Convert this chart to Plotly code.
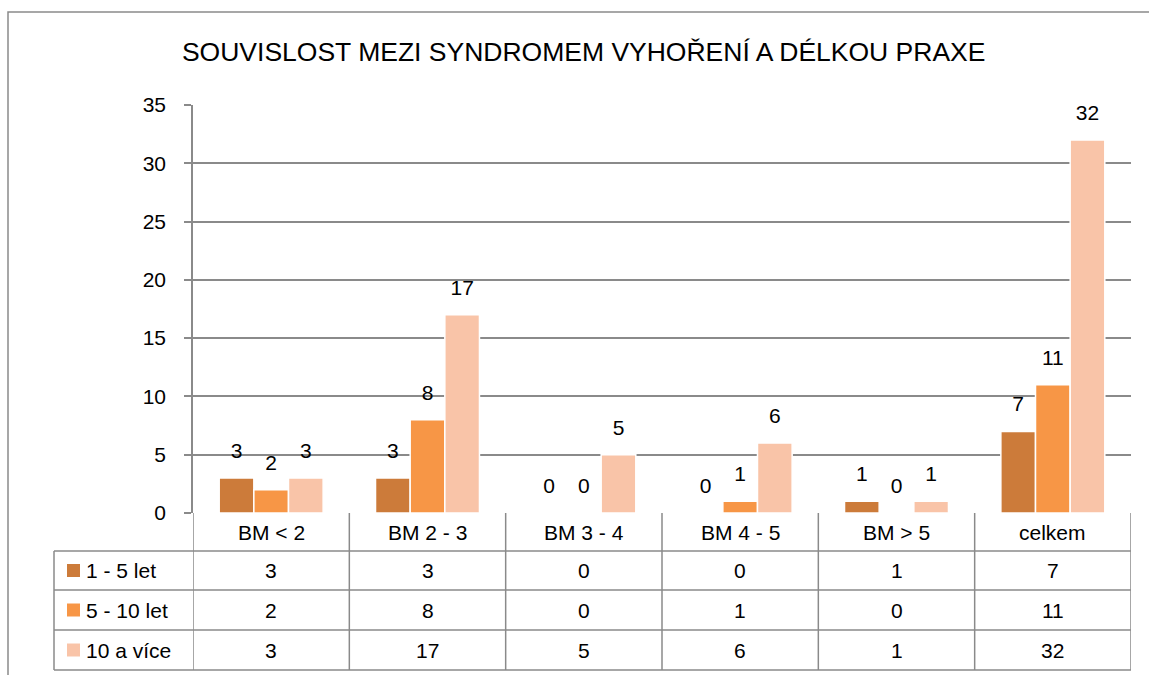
import plotly.graph_objects as go

# ---------------- data ----------------
categories = ["BM < 2", "BM 2 - 3", "BM 3 - 4", "BM 4 - 5", "BM > 5", "celkem"]
series_names = ["1 - 5 let", "5 - 10 let", "10 a více"]
values_1_5 = [3, 3, 0, 0, 1, 7]
values_5_10 = [2, 8, 0, 1, 0, 11]
values_10_plus = [3, 17, 5, 6, 1, 32]
y_tick_values = [0, 5, 10, 15, 20, 25, 30, 35]
title_text = "SOUVISLOST MEZI SYNDROMEM VYHOŘENÍ A DÉLKOU PRAXE"

series_values = [values_1_5, values_5_10, values_10_plus]
colors = ["#CC7B3A", "#F79646", "#F9C4A8"]

# ---------------- geometry helpers (pixel -> paper) ----------------
W, H = 1149, 675
PL, PR, PT, PB = 193, 1131, 105, 513
FONT = "Liberation Sans, Arial, sans-serif"
GRID = "#8a8a8a"


def px(x):
    return (x - PL) / (PR - PL)


def py(y):
    return (PB - y) / (PB - PT)


fig = go.Figure()

for name, vals, col in zip(series_names, series_values, colors):
    fig.add_trace(go.Bar(
        x=categories, y=vals, name=name,
        marker=dict(color=col, line=dict(color="white", width=1.5)),
        showlegend=False, hoverinfo="x+y+name",
    ))

for name, vals in zip(series_names, series_values):
    fig.add_trace(go.Scatter(
        x=categories, y=vals, name=name, mode="markers+text",
        text=[str(v) for v in vals], textposition="top center",
        textfont=dict(family=FONT, size=21, color="black"),
        marker=dict(size=22, opacity=0),
        showlegend=False, hoverinfo="skip", cliponaxis=False,
    ))

shapes = []
annotations = []
line = dict(color=GRID, width=1.5)

# outer chart border (extends beyond the visible page to right/bottom)
shapes.append(dict(type="rect", xref="paper", yref="paper",
                   x0=px(8), x1=px(1400), y0=py(12), y1=py(900),
                   line=dict(color=GRID, width=1.5), layer="below"))

# data table lines
row_edges = [551, 590, 630, 670]
for ry in row_edges:
    shapes.append(dict(type="line", xref="paper", yref="paper",
                       x0=px(54), x1=px(PR), y0=py(ry), y1=py(ry), line=line))
shapes.append(dict(type="line", xref="paper", yref="paper",
                   x0=px(54), x1=px(54), y0=py(551), y1=py(670), line=line))
for xb in [-0.5 + i for i in range(len(categories) + 1)]:
    shapes.append(dict(type="line", xref="x", yref="paper",
                       x0=xb, x1=xb, y0=py(PB), y1=py(670), line=line))

TF = dict(family=FONT, size=21, color="black")

# header labels
for c in categories:
    annotations.append(dict(xref="x", yref="paper", x=c, y=py(532),
                            text=c, showarrow=False, yanchor="middle", font=TF))

# rows: legend key + values
row_centers = [570.5, 610, 650]
for rc, name, vals, col in zip(row_centers, series_names, series_values, colors):
    shapes.append(dict(type="rect", xref="paper", yref="paper",
                       x0=px(67), x1=px(80), y0=py(rc - 6.5), y1=py(rc + 6.5),
                       fillcolor=col, line=dict(width=0)))
    annotations.append(dict(xref="paper", yref="paper", x=px(84), y=py(rc),
                            text=name, showarrow=False, xanchor="left", yanchor="middle",
                            font=TF))
    for c, v in zip(categories, vals):
        annotations.append(dict(xref="x", yref="paper", x=c, y=py(rc),
                                text=str(v), showarrow=False, yanchor="middle", font=TF))

fig.update_layout(
    width=W, height=H,
    margin=dict(l=PL, r=W - PR, t=PT, b=H - PB, pad=0),
    paper_bgcolor="white", plot_bgcolor="white",
    barmode="group", bargap=0.335, bargroupgap=0,
    scattermode="group", scattergap=0.335,
    title=dict(text=title_text, x=0.508, xanchor="center", y=1 - 52 / H, yanchor="middle",
               font=dict(family=FONT, size=26.5, color="black")),
    xaxis=dict(showticklabels=False, showgrid=False, zeroline=False, showline=False,
               ticks="", range=[-0.5, len(categories) - 0.5]),
    yaxis=dict(range=[0, 35], tickvals=y_tick_values, showgrid=True, gridcolor=GRID,
               gridwidth=1.5, zeroline=False, showline=True, linecolor=GRID, linewidth=1.5,
               ticks="outside", ticklen=7, tickcolor=GRID, tickwidth=1.5,
               ticklabelstandoff=14,
               tickfont=dict(family=FONT, size=21, color="black")),
    shapes=shapes, annotations=annotations,
)

fig.write_html("out.html", config={"displayModeBar": False},
               post_script="document.body.style.margin='0';")
